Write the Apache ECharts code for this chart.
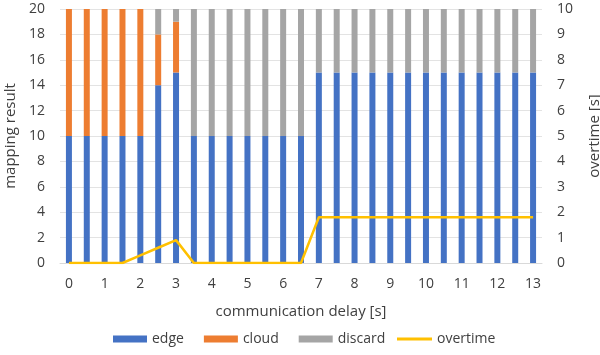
<!DOCTYPE html>
<html>
<head>
<meta charset="utf-8">
<script src="https://cdn.jsdelivr.net/npm/echarts@6/dist/echarts.min.js"></script>
<style>html,body{margin:0;padding:0;background:#fff;}#c{width:600px;height:355px;}</style>
</head>
<body>
<div id="c"></div>
<script>
const delays = ['0','0.5','1','1.5','2','2.5','3','3.5','4','4.5','5','5.5','6','6.5','7','7.5','8','8.5','9','9.5','10','10.5','11','11.5','12','12.5','13'];
const edge =    [10,10,10,10,10,14,15,10,10,10,10,10,10,10,15,15,15,15,15,15,15,15,15,15,15,15,15];
const cloud =   [10,10,10,10,10,4,4,0,0,0,0,0,0,0,0,0,0,0,0,0,0,0,0,0,0,0,0];
const discard = [0,0,0,0,0,2,1,10,10,10,10,10,10,10,5,5,5,5,5,5,5,5,5,5,5,5,5];
const overtime = [0,0,0,0,0.3,0.6,0.9,0,0,0,0,0,0,0,1.8,1.8,1.8,1.8,1.8,1.8,1.8,1.8,1.8,1.8,1.8,1.8,1.8];

const FONT = 'Open Sans';
const TXT = '#404040';
const chart = echarts.init(document.getElementById('c'), null, {renderer:'canvas'});
const lbl = {color:TXT, fontFamily:FONT, fontSize:14};
const nameStyle = {color:TXT, fontFamily:FONT, fontSize:15};
chart.setOption({
  animation:false,
  grid:{left:60, right:58, top:9, bottom:92, containLabel:false, outerBoundsMode:'none'},
  legend:[
    {
      top:332, left:113, itemWidth:34, itemHeight:7, itemGap:20, padding:0,
      textStyle:{color:TXT, fontFamily:FONT, fontSize:14},
      data:[{name:'edge', icon:'rect'},{name:'cloud', icon:'rect'},{name:'discard', icon:'rect'}]
    },
    {
      top:332, left:397, itemWidth:35, itemHeight:3, padding:0,
      textStyle:{color:TXT, fontFamily:FONT, fontSize:14},
      data:[{name:'overtime', icon:'rect'}]
    }
  ],
  xAxis:{
    type:'category', data:delays, boundaryGap:true,
    name:'communication delay [s]', nameLocation:'middle', nameGap:41,
    nameTextStyle:nameStyle,
    axisLine:{lineStyle:{color:'#d9d9d9'}}, axisTick:{show:false},
    axisLabel:Object.assign({interval:1, margin:14}, lbl)
  },
  yAxis:[
    {type:'value', min:0, max:20, interval:2, position:'left',
     name:'mapping result', nameLocation:'middle', nameGap:35, nameRotate:90,
     nameTextStyle:nameStyle,
     axisLine:{show:false}, axisTick:{show:false},
     axisLabel:Object.assign({margin:15}, lbl),
     splitLine:{lineStyle:{color:'#e3e3e3'}}},
    {type:'value', min:0, max:10, interval:1, position:'right',
     name:'overtime [s]', nameLocation:'middle', nameGap:45, nameRotate:90,
     nameTextStyle:nameStyle,
     axisLine:{show:false}, axisTick:{show:false},
     axisLabel:Object.assign({margin:15}, lbl),
     splitLine:{show:false}}
  ],
  series:[
    {name:'edge', type:'bar', stack:'m', data:edge, barWidth:6, itemStyle:{color:'#4472C4'}},
    {name:'cloud', type:'bar', stack:'m', data:cloud, barWidth:6, itemStyle:{color:'#ED7D31'}},
    {name:'discard', type:'bar', stack:'m', data:discard, barWidth:6, itemStyle:{color:'#A5A5A5'}},
    {name:'overtime', type:'line', yAxisIndex:1, data:overtime, symbol:'none', z:5,
     lineStyle:{color:'#FFC000', width:2.5}, itemStyle:{color:'#FFC000'}}
  ]
});
</script>
</body>
</html>
